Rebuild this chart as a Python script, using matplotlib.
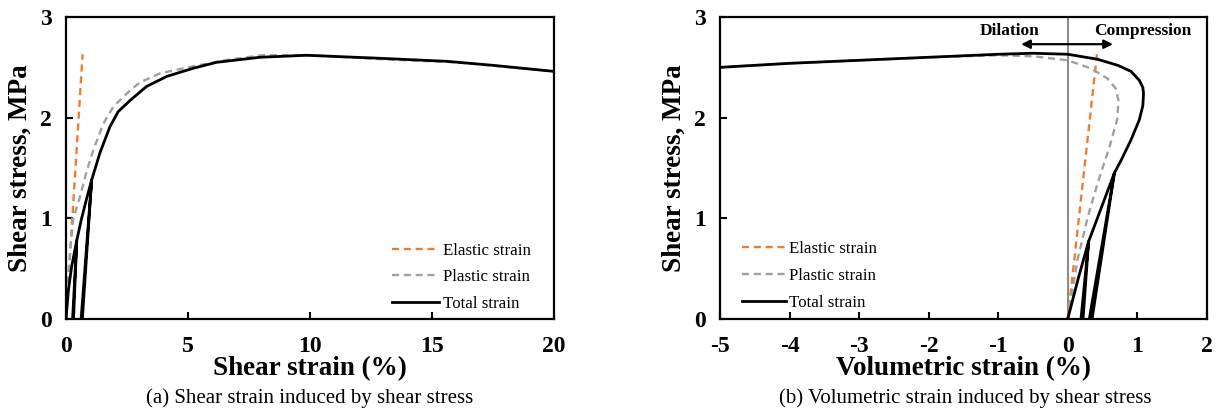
import matplotlib
matplotlib.use('Agg')
import matplotlib.pyplot as plt

plt.rcParams['font.family'] = ['Liberation Serif', 'DejaVu Serif']
plt.rcParams['axes.unicode_minus'] = False

# ---- (a) shear strain vs shear stress ----
elastic_a_x = [0, 0.68]
elastic_a_y = [0, 2.63]

plastic_a_x = [0, 0.08, 0.18, 0.3, 0.57, 0.85, 1.12, 1.53, 1.94, 2.62, 3.03, 3.85, 5.2, 6.5, 8.0, 10.0, 13.0, 16.0, 20.0]
plastic_a_y = [0, 0.4, 0.7, 1.0, 1.21, 1.47, 1.68, 1.94, 2.11, 2.27, 2.35, 2.44, 2.51, 2.57, 2.62, 2.62, 2.58, 2.55, 2.46]

# total strain, incl. the two unload/reload loops
total_a_x = [0, 0.1, 0.23, 0.44, 0.27, 0.31, 0.44, 0.64, 0.85, 1.05, 0.62, 0.67, 1.05,
             1.39, 1.8, 2.14, 2.62, 3.3, 4.13, 5.2, 6.17, 7.95, 9.86, 12.87, 15.6, 17.5, 20.0]
total_a_y = [0, 0.29, 0.52, 0.78, 0, 0, 0.78, 1.0, 1.2, 1.38, 0, 0, 1.38,
             1.65, 1.91, 2.06, 2.17, 2.31, 2.41, 2.49, 2.55, 2.60, 2.62, 2.59, 2.56, 2.52, 2.46]

# ---- (b) volumetric strain vs shear stress ----
elastic_b_x = [0, 0.42]
elastic_b_y = [0, 2.63]

plastic_b_x = [0, 0.14, 0.29, 0.43, 0.6, 0.71, 0.73, 0.69, 0.57, 0.33, 0.0, -0.5, -1.0, -2.0, -3.0, -4.0, -5.0]
plastic_b_y = [0, 0.59, 1.02, 1.35, 1.71, 1.98, 2.17, 2.29, 2.39, 2.49, 2.57, 2.61, 2.62, 2.6, 2.57, 2.54, 2.5]

total_b_x = [0, 0.15, 0.30, 0.19, 0.22, 0.30, 0.48, 0.67, 0.31, 0.35, 0.67, 0.77, 0.91, 1.03, 1.08,
             1.09, 1.08, 1.03, 0.91, 0.72, 0.43, 0.0, -0.5, -1.0, -2.0, -3.0, -4.0, -5.0]
total_b_y = [0, 0.4, 0.77, 0, 0, 0.77, 1.1, 1.45, 0, 0, 1.45, 1.58, 1.78, 1.98, 2.12,
             2.24, 2.3, 2.37, 2.46, 2.52, 2.58, 2.63, 2.64, 2.63, 2.6, 2.57, 2.54, 2.5]

xticks_a = [0, 5, 10, 15, 20]
xticks_b = [-5, -4, -3, -2, -1, 0, 1, 2]
yticks = [0, 1, 2, 3]

orange = '#ED7D31'
grey = '#A0A0A0'

fig = plt.figure(figsize=(12.2, 4.12), dpi=100)
ax1 = fig.add_axes([0.0541, 0.2257, 0.400, 0.733])
ax2 = fig.add_axes([0.5902, 0.2257, 0.399, 0.733])


def style(ax, xticks, xlabel):
    ax.set_ylim(0, 3)
    ax.set_yticks(yticks)
    ax.set_xticks(xticks)
    ax.set_xlim(xticks[0], xticks[-1])
    ax.tick_params(direction='in', length=5, width=1.5, labelsize=17, pad=10)
    ax.tick_params(axis='x', pad=12)
    for lab in ax.get_xticklabels() + ax.get_yticklabels():
        lab.set_fontweight('bold')
    for s in ax.spines.values():
        s.set_linewidth(1.6)
    ax.set_xlabel(xlabel, fontsize=19.5, fontweight='bold')
    ax.set_ylabel('Shear stress, MPa', fontsize=19.5, fontweight='bold')
    ax.xaxis.set_label_coords(0.5, -0.124)
    ax.yaxis.set_label_coords(-0.068, 0.5)


ax1.plot(elastic_a_x, elastic_a_y, color=orange, lw=1.7, ls=(0, (3, 2)), label='Elastic strain')
ax1.plot(plastic_a_x, plastic_a_y, color=grey, lw=1.7, ls=(0, (3, 2)), label='Plastic strain')
ax1.plot(total_a_x, total_a_y, color='black', lw=2.0, label='Total strain')
style(ax1, xticks_a, 'Shear strain (%)')
ax1.legend(loc='upper left', bbox_to_anchor=(0.668, 0.252), frameon=False, fontsize=12.2,
           borderpad=0, borderaxespad=0, handlelength=2.75, handletextpad=0.25, labelspacing=0.62)

ax2.axvline(0, color='#8C8C8C', lw=1.5)
ax2.plot(elastic_b_x, elastic_b_y, color=orange, lw=1.7, ls=(0, (3, 2)), label='Elastic strain')
ax2.plot(plastic_b_x, plastic_b_y, color=grey, lw=1.7, ls=(0, (3, 2)), label='Plastic strain')
ax2.plot(total_b_x, total_b_y, color='black', lw=2.0, label='Total strain')
style(ax2, xticks_b, 'Volumetric strain (%)')
ax2.legend(loc='upper left', bbox_to_anchor=(0.045, 0.259), frameon=False, fontsize=12.2,
           borderpad=0, borderaxespad=0, handlelength=2.6, handletextpad=0.2, labelspacing=0.65)

# dilation / compression arrow
ax2.annotate('', xy=(-0.67, 2.73), xytext=(0.65, 2.73),
             arrowprops=dict(arrowstyle='<|-|>', color='black', lw=1.6,
                             mutation_scale=13, shrinkA=0, shrinkB=0))
ax2.text(-0.84, 2.86, 'Dilation', ha='center', va='center', fontsize=12.5, fontweight='bold')
ax2.text(1.08, 2.86, 'Compression', ha='center', va='center', fontsize=12.5, fontweight='bold')

fig.text(0.254, 0.034, '(a) Shear strain induced by shear stress', ha='center', va='center', fontsize=15)
fig.text(0.791, 0.034, '(b) Volumetric strain induced by shear stress', ha='center', va='center', fontsize=15)

fig.savefig('out.png', dpi=100)
